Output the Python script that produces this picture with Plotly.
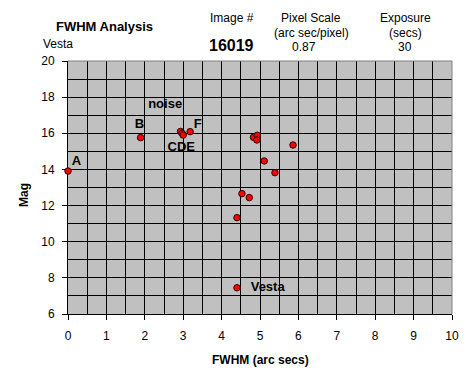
import plotly.graph_objects as go

fwhm = [0.0, 1.89, 2.93, 2.97, 3.0, 3.18, 4.83, 4.93, 4.92, 5.86, 5.11, 5.39, 4.53, 4.72, 4.40, 4.40]
mag = [13.91, 15.76, 16.1, 16.0, 15.9, 16.09, 15.78, 15.89, 15.63, 15.35, 14.47, 13.82, 12.66, 12.44, 11.33, 7.45]

label_text = ["A", "B", "F", "CDE", "noise", "Vesta"]
label_x = [0.22, 1.86, 3.38, 2.95, 2.53, 5.2]
label_y = [14.4, 16.45, 16.45, 15.2, 17.6, 7.45]

header_text = ["Image #", "Pixel Scale", "(arc sec/pixel)", "Exposure", "(secs)"]
header_x = [232, 311, 311, 405, 405]
header_y = [18, 18, 33, 18, 33]
header_val = ["16019", "0.87", "30"]
val_x = [231, 304, 405]

FONT = "Liberation Sans, Arial, sans-serif"
OFF = 8  # page body margin
W, H = 473 - OFF, 385 - OFF
L, R, T, B = 68 - OFF, 21, 61 - OFF, 71


def px(xp):
    return (xp - 68) / (452 - 68)


def py(yp):
    return 1 - (yp - 61) / (314 - 61)


fig = go.Figure()
fig.add_trace(go.Scatter(
    x=fwhm, y=mag, mode="markers",
    marker=dict(symbol="circle", size=6.5, color="#FF0000", line=dict(color="#300000", width=1)),
    cliponaxis=False, showlegend=False, hoverinfo="x+y"))

fig.add_trace(go.Scatter(
    x=label_x, y=label_y, mode="text", text=label_text,
    textfont=dict(family=FONT, size=13, color="black", weight="bold"),
    textposition="middle center", showlegend=False, hoverinfo="skip"))

ann = []


def add(text, xp, yp, size=12, angle=0):
    ann.append(dict(text=text, x=px(xp), y=py(yp), xref="paper", yref="paper",
                    xanchor="center", yanchor="middle", textangle=angle,
                    showarrow=False, font=dict(family=FONT, size=size, color="black")))


add("<b>FWHM Analysis</b>", 104, 27, 13)
add("Vesta", 58, 44, 12)
for t, xc, yc in zip(header_text, header_x, header_y):
    add(t, xc, yc, 12)
add("<b>" + header_val[0] + "</b>", val_x[0], 46, 16)
add(header_val[1], val_x[1], 47, 12)
add(header_val[2], val_x[2], 47, 12)
add("<b>FWHM (arc secs)</b>", 260, 360, 12)
add("<b>Mag</b>", 24, 195, 12, -90)

fig.update_layout(
    width=W, height=H, margin=dict(l=L, r=R, t=T, b=B),
    paper_bgcolor="white", plot_bgcolor="#C0C0C0",
    font=dict(family=FONT, size=12, color="black"),
    annotations=ann,
    shapes=[
        dict(type="line", xref="paper", yref="paper", x0=0, x1=1, y0=1, y1=1,
             line=dict(color="#808080", width=1), layer="above"),
        dict(type="line", xref="paper", yref="paper", x0=1, x1=1, y0=0, y1=1,
             line=dict(color="#808080", width=1), layer="above"),
    ],
)
fig.update_xaxes(range=[0, 10], dtick=1, tick0=0, showgrid=True, gridcolor="black", gridwidth=1,
                 minor=dict(dtick=0.5, showgrid=True, gridcolor="black", gridwidth=1, ticks=""),
                 ticks="outside", ticklen=5, tickcolor="black", showline=True, linecolor="black",
                 linewidth=1, zeroline=False, layer="below traces", ticklabelstandoff=6,
                 tickfont=dict(family=FONT, size=12, color="black"))
fig.update_yaxes(range=[6, 20], dtick=2, tick0=6, showgrid=True, gridcolor="black", gridwidth=1,
                 minor=dict(dtick=1, showgrid=True, gridcolor="black", gridwidth=1, ticks=""),
                 ticks="outside", ticklen=5, tickcolor="black", showline=True, linecolor="black",
                 linewidth=1, zeroline=False, layer="below traces", ticklabelstandoff=5,
                 tickfont=dict(family=FONT, size=12, color="black"))

fig.write_html("out.html")
